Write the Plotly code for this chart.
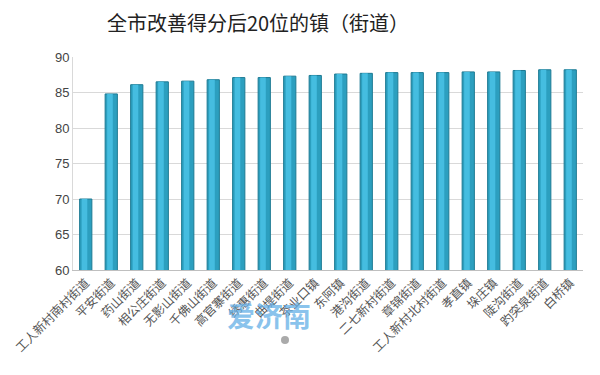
import plotly.graph_objects as go

categories = ["工人新村南村街道", "平安街道", "药山街道", "相公庄街道", "无影山街道",
              "千佛山街道", "高官寨街道", "绣惠街道", "曲堤街道", "茶业口镇",
              "东阿镇", "港沟街道", "二七新村街道", "章锦街道", "工人新村北村街道",
              "孝直镇", "垛庄镇", "陡沟街道", "趵突泉街道", "白桥镇"]
values = [70.0, 84.8, 86.1, 86.5, 86.6, 86.8, 87.1, 87.1, 87.3, 87.4,
          87.6, 87.7, 87.8, 87.8, 87.8, 87.9, 87.9, 88.1, 88.2, 88.2]
y_ticks = [60, 65, 70, 75, 80, 85, 90]

OFF = 8  # page body margin offset
L, T = 73 - OFF, 57 - OFF
PW, PH = 510, 213
R, B = 600 - L - PW, 375 - T - PH

fig = go.Figure()
fig.add_trace(go.Bar(
    x=categories, y=values, width=0.48,
    marker=dict(color="#2c9fbf", line=dict(color="#1d7a93", width=1)),
))
fig.add_trace(go.Bar(
    x=categories, y=values, width=0.22, offset=-0.16,
    marker=dict(color="#45bde0", line=dict(width=0)),
    hoverinfo="skip",
))

fig.update_layout(
    width=600, height=375,
    margin=dict(l=L, r=R, t=T, b=B, autoexpand=False),
    paper_bgcolor="white", plot_bgcolor="white",
    showlegend=False, barmode="overlay",
    title=dict(text="全市改善得分后20位的镇（街道）", x=250 / 600, xanchor="center",
               y=1 - 16 / 375, yanchor="middle", xref="container", yref="container",
               font=dict(family="Noto Sans CJK SC", size=20, color="#222222")),
    font=dict(family="Noto Sans CJK SC"),
    xaxis=dict(tickangle=-45, automargin=False,
               tickfont=dict(size=12.2, color="#555555", family="Noto Sans CJK SC"),
               showline=True, linecolor="#bfbfbf", showgrid=False, ticks=""),
    yaxis=dict(range=[60, 90], tickvals=y_ticks, showgrid=True, gridcolor="#d9d9d9",
               automargin=False, showline=True, linecolor="#d9d9d9", zeroline=False,
               tickfont=dict(size=13, color="#444444", family="Liberation Sans")),
)
fig.add_annotation(text="<b>爱济南</b>", x=(225 - 73) / PW, y=-(337 - 270) / PH,
                   xref="paper", yref="paper", showarrow=False,
                   font=dict(size=28, color="rgba(100,175,230,0.75)", family="Noto Sans CJK SC"))
cx, cy = (285 - 73) / PW, -(340 - 270) / PH
fig.add_shape(type="circle", xref="paper", yref="paper",
              x0=cx - 4 / PW, x1=cx + 4 / PW, y0=cy - 4 / PH, y1=cy + 4 / PH,
              fillcolor="#aaaaaa", line=dict(width=0))

fig.write_html("out.html")
